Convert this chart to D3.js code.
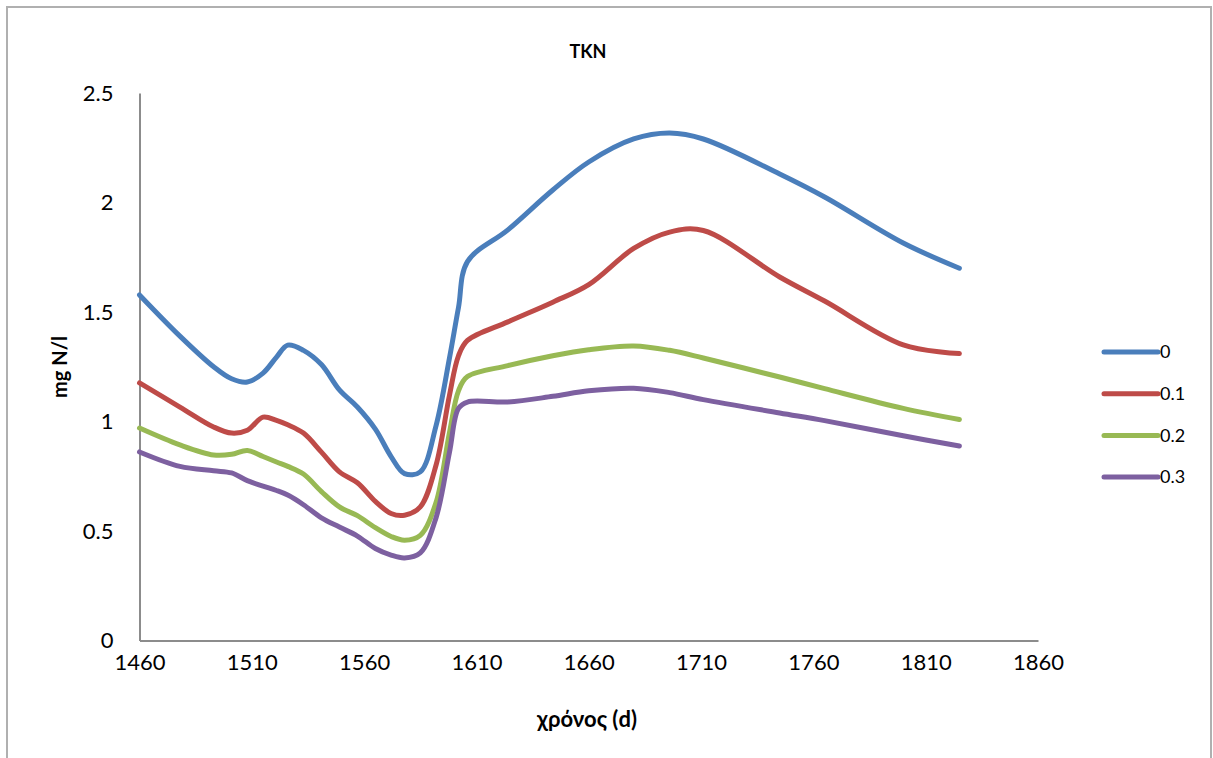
<!DOCTYPE html>
<html>
<head>
<meta charset="utf-8">
<script src="https://cdn.jsdelivr.net/npm/d3@7"></script>
<style>
  body { margin: 0; background: #fff; }
  text { font-family: Lato, "Open Sans", sans-serif; fill: #000; }
</style>
</head>
<body>
<div id="chart"></div>
<script>
// Data
var days = [1460, 1478, 1493, 1501, 1508, 1515, 1521, 1526, 1533, 1541, 1549, 1557, 1565, 1572, 1578,
            1585, 1592, 1598, 1602, 1606, 1624, 1644, 1660, 1680, 1696, 1711, 1745, 1765, 1800, 1825];
var s0  = [1.578, 1.39, 1.25, 1.195, 1.18, 1.221, 1.294, 1.349, 1.325, 1.26, 1.144, 1.066, 0.965, 0.84, 0.762,
           0.77, 0.98, 1.29, 1.52, 1.73, 1.875, 2.057, 2.185, 2.29, 2.317, 2.29, 2.13, 2.025, 1.815, 1.70];
var s01 = [1.176, 1.066, 0.975, 0.947, 0.96, 1.02, 1.005, 0.985, 0.947, 0.86, 0.77, 0.72, 0.635, 0.58, 0.572,
           0.61, 0.80, 1.12, 1.30, 1.37, 1.455, 1.545, 1.625, 1.79, 1.865, 1.872, 1.66, 1.55, 1.35, 1.31];
var s02 = [0.97, 0.893, 0.847, 0.85, 0.868, 0.84, 0.815, 0.795, 0.76, 0.68, 0.61, 0.57, 0.515, 0.475, 0.458,
           0.48, 0.63, 0.95, 1.14, 1.205, 1.255, 1.30, 1.328, 1.345, 1.325, 1.29, 1.203, 1.15, 1.06, 1.009];
var s03 = [0.861, 0.795, 0.775, 0.765, 0.73, 0.705, 0.685, 0.664, 0.62, 0.56, 0.518, 0.477, 0.42, 0.39, 0.377,
           0.40, 0.56, 0.86, 1.06, 1.089, 1.089, 1.115, 1.14, 1.152, 1.132, 1.10, 1.039, 1.004, 0.935, 0.888];
var seriesNames = ["0", "0.1", "0.2", "0.3"];
var seriesValues = [s0, s01, s02, s03];
var colors = ["#4A7EBB", "#BE4B48", "#98B954", "#7D60A0"];
var xTicks = [1460, 1510, 1560, 1610, 1660, 1710, 1760, 1810, 1860];
var yTicks = [0, 0.5, 1, 1.5, 2, 2.5];

var W = 1213, H = 758;
var svg = d3.select("#chart").append("svg")
    .attr("width", W)
    .attr("height", H);

// Outer frame
svg.append("rect")
    .attr("x", 7).attr("y", 7)
    .attr("width", 1204).attr("height", 760)
    .attr("fill", "none")
    .attr("stroke", "#b0b0b0")
    .attr("stroke-width", 2);

// Plot area
var plotLeft = 139.5, plotRight = 1038, plotTop = 93, plotBottom = 640.5;

var xScale = d3.scaleLinear().domain([1460, 1860]).range([plotLeft, plotRight]);
var yScale = d3.scaleLinear().domain([0, 2.5]).range([plotBottom, plotTop]);

// Axes (no tick marks, only labels)
var xAxisG = svg.append("g")
    .attr("transform", "translate(0," + plotBottom + ")")
    .call(d3.axisBottom(xScale).tickValues(xTicks).tickSize(0).tickPadding(14).tickFormat(d3.format("d")));
var yAxisG = svg.append("g")
    .attr("transform", "translate(" + plotLeft + ",0)")
    .call(d3.axisLeft(yScale).tickValues(yTicks).tickSize(0).tickPadding(26).tickFormat(d => String(d)));

[xAxisG, yAxisG].forEach(g => {
    g.select(".domain").attr("stroke", "#8c8c8c").attr("stroke-width", 2);
    g.selectAll("text")
        .style("font-family", "Lato, sans-serif")
        .style("font-size", "22px")
        .attr("fill", "#000");
});
xAxisG.selectAll("text").attr("dy", "0.71em");

// Lines
var line = d3.line()
    .x((d, i) => xScale(days[i]))
    .y(d => yScale(d))
    .curve(d3.curveCatmullRom.alpha(0.5));

svg.append("g").selectAll("path")
    .data(seriesValues)
    .enter()
    .append("path")
    .attr("d", d => line(d))
    .attr("fill", "none")
    .attr("stroke", (d, i) => colors[i])
    .attr("stroke-width", 5)
    .attr("stroke-linejoin", "round")
    .attr("stroke-linecap", "round");

// Title and axis labels
svg.append("text")
    .attr("x", 588).attr("y", 58)
    .attr("text-anchor", "middle")
    .style("font-size", "18px")
    .style("font-weight", "bold")
    .text("TKN");

svg.append("text")
    .attr("x", 587).attr("y", 727)
    .attr("text-anchor", "middle")
    .style("font-size", "22px")
    .style("font-weight", "bold")
    .text("χρόνος (d)");

svg.append("text")
    .attr("transform", "translate(67,367)rotate(-90)")
    .attr("text-anchor", "middle")
    .style("font-size", "20px")
    .style("font-weight", "bold")
    .text("mg N/l");

// Legend
var legend = svg.append("g").selectAll("g")
    .data(seriesNames)
    .enter()
    .append("g")
    .attr("transform", (d, i) => "translate(1104," + (352 + i * 41.7) + ")");

legend.append("line")
    .attr("x1", 0).attr("x2", 54)
    .attr("stroke", (d, i) => colors[i])
    .attr("stroke-width", 5)
    .attr("stroke-linecap", "round");

legend.append("text")
    .attr("x", 56).attr("y", 0)
    .attr("dy", "0.35em")
    .style("font-size", "18px")
    .text(d => d);
</script>
</body>
</html>
